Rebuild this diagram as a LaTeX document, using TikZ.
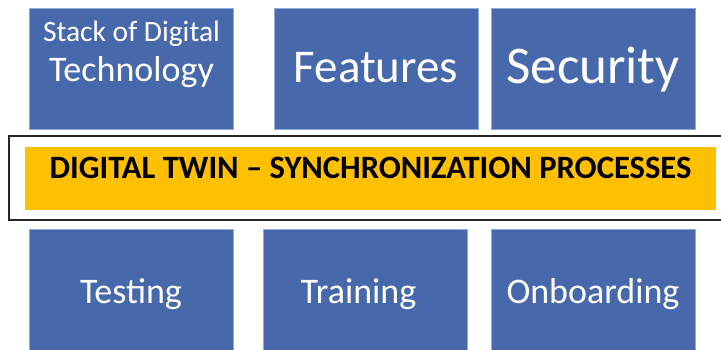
\documentclass[tikz,border=0pt]{standalone}
\usepackage{fontspec}
\setmainfont{Carlito}
\definecolor{tileblue}{RGB}{72,104,172}
\definecolor{tileline}{RGB}{143,170,220}
\definecolor{bandyellow}{RGB}{255,192,0}

\begin{document}
\begin{tikzpicture}[x=1pt, y=-1pt]
            \tikzstyle{tile} = [draw=tileline, line width=0.6pt, fill=tileblue,
                text=white, inner sep=0pt, minimum width=204, minimum height=121]
            \useasboundingbox (0, 0) rectangle (721, 350);

            \node[tile] (stack) at (131.5, 68.5)
                {\parbox[c][121pt][t]{204pt}{\centering\vspace*{13pt}
                 {\fontsize{29.5}{30}\selectfont Stack of Digital\par}
                 {\fontsize{36}{40}\selectfont Technology\par}}};
            \node[tile, text height=27.5, text depth=0, font=\fontsize{47}{50}\selectfont]
                (features) at (376, 68.5) {Features};
            \node[tile, text height=31, text depth=0, font=\fontsize{53}{56}\selectfont]
                (security) at (593, 68.5) {Security};

            \draw[line width=1.3pt, draw=black!85] (723, 136) -- (9, 136) -- (9, 220) -- (723, 220);
            \node[fill=bandyellow, inner sep=0pt, minimum width=691, minimum height=63,
                text height=0, text depth=0, font=\fontsize{32.6}{34}\selectfont\bfseries]
                (twin) at (370.5, 178.5) {DIGITAL TWIN -- SYNCHRONIZATION PROCESSES};

            \node[tile, text height=27, text depth=0, font=\fontsize{36}{38}\selectfont]
                (testing) at (131, 290) {Testing};
            \node[tile, text height=27, text depth=0, font=\fontsize{36}{38}\selectfont]
                (training) at (365, 290) {Training\hspace*{13pt}};
            \node[tile, text height=27, text depth=0, font=\fontsize{36}{38}\selectfont]
                (onboarding) at (593, 290) {Onboarding};
        \end{tikzpicture}
\end{document}
